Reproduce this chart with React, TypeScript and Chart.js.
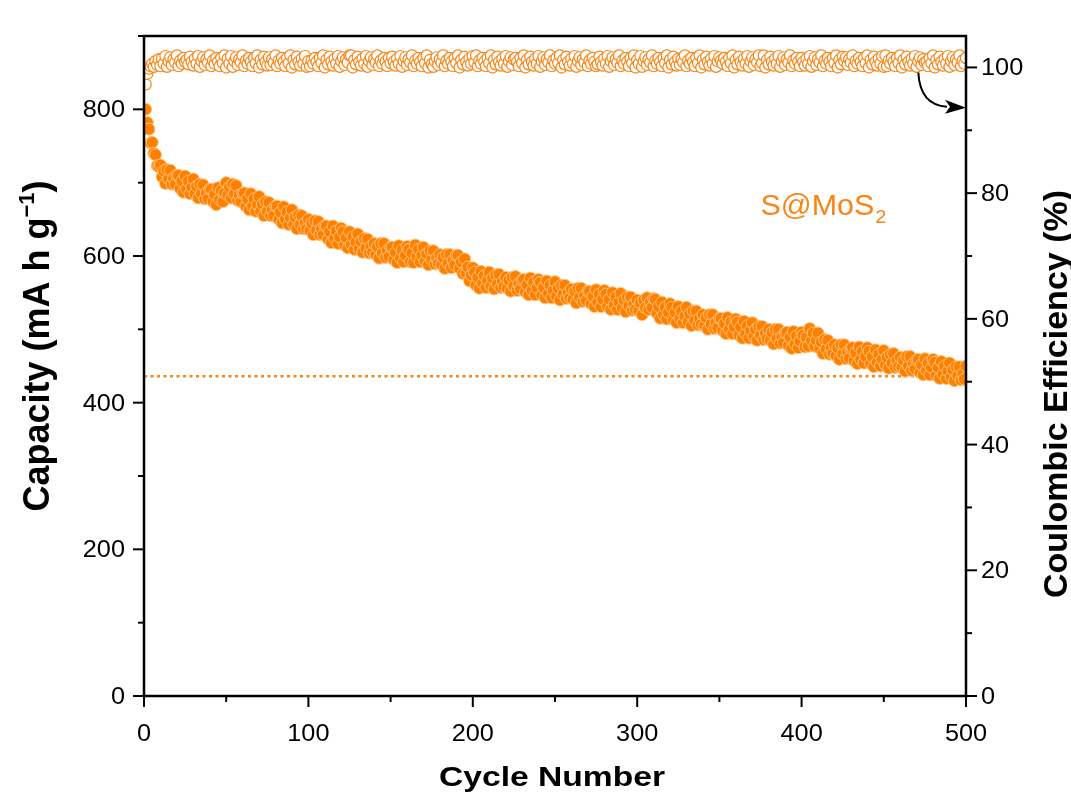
import React, { useEffect, useRef } from "react";
import { Chart, registerables } from "chart.js";

Chart.register(...registerables);

// ---------- data ----------
const CYCLES: number[] = Array.from({ length: 500 }, (_, i) => i + 1);

const CAPACITY: number[] = [
  800, 782, 773, 754, 755, 740, 738, 723, 722, 724, 708, 716, 699, 718, 705, 717, 698, 706, 698, 710,
  710, 692, 702, 687, 709, 692, 702, 685, 694, 705, 685, 695, 679, 698, 685, 697, 678, 686, 678, 691,
  691, 674, 684, 670, 693, 677, 689, 674, 686, 700, 683, 694, 679, 698, 685, 696, 676, 683, 674, 685,
  686, 668, 678, 663, 685, 668, 678, 661, 670, 681, 661, 671, 655, 674, 661, 673, 655, 663, 655, 668,
  668, 650, 660, 645, 667, 650, 660, 643, 652, 663, 643, 653, 637, 656, 643, 655, 637, 645, 637, 650,
  635, 645, 629, 648, 635, 647, 629, 637, 629, 641, 641, 623, 633, 618, 641, 624, 634, 617, 626, 638,
  633, 615, 625, 611, 633, 616, 626, 609, 619, 630, 610, 620, 605, 624, 611, 623, 604, 613, 605, 617,
  602, 613, 597, 617, 604, 617, 598, 607, 599, 612, 612, 595, 605, 591, 614, 597, 608, 592, 601, 613,
  609, 592, 604, 591, 615, 599, 609, 592, 601, 612, 593, 603, 588, 607, 595, 607, 589, 597, 590, 602,
  588, 598, 583, 602, 590, 602, 584, 594, 588, 601, 601, 583, 592, 576, 596, 577, 585, 566, 574, 584,
  578, 560, 571, 556, 579, 563, 573, 557, 567, 578, 559, 570, 555, 574, 562, 575, 557, 565, 558, 571,
  556, 567, 552, 571, 559, 572, 553, 562, 555, 567, 568, 551, 561, 547, 570, 553, 564, 547, 557, 568,
  564, 547, 557, 543, 566, 549, 560, 543, 553, 565, 545, 556, 540, 560, 548, 560, 542, 550, 543, 555,
  541, 552, 536, 556, 544, 556, 538, 546, 539, 552, 552, 535, 545, 531, 554, 537, 548, 531, 541, 553,
  548, 531, 541, 527, 550, 533, 544, 527, 537, 549, 529, 540, 524, 544, 532, 544, 526, 534, 527, 540,
  525, 536, 520, 540, 529, 543, 527, 537, 530, 542, 541, 522, 531, 515, 537, 520, 530, 514, 523, 535,
  530, 513, 523, 509, 531, 515, 525, 509, 518, 530, 510, 521, 505, 525, 512, 525, 506, 515, 507, 520,
  505, 516, 500, 520, 507, 520, 501, 510, 502, 515, 515, 498, 508, 494, 516, 500, 510, 494, 503, 514,
  510, 492, 503, 488, 511, 494, 505, 488, 498, 509, 490, 500, 485, 504, 492, 504, 486, 495, 487, 500,
  485, 496, 480, 500, 487, 500, 481, 490, 482, 495, 496, 478, 489, 474, 497, 480, 491, 475, 484, 496,
  492, 476, 489, 477, 501, 485, 495, 477, 485, 495, 474, 483, 467, 486, 473, 485, 466, 475, 467, 479,
  464, 475, 459, 479, 466, 479, 460, 469, 461, 474, 475, 457, 468, 453, 476, 459, 470, 454, 463, 475,
  470, 453, 463, 449, 472, 455, 466, 450, 459, 471, 451, 462, 447, 466, 454, 467, 448, 457, 449, 462,
  448, 458, 443, 463, 450, 463, 444, 453, 446, 458, 459, 441, 452, 438, 460, 444, 454, 438, 448, 459,
  455, 437, 448, 433, 456, 439, 450, 433, 443, 454, 435, 445, 430, 449, 437, 449, 431, 439, 432, 450,
];

const COULOMBIC_EFFICIENCY: number[] = [
  97.3, 99.0, 99.8, 100.2, 100.6, 100.1, 101.0, 100.4, 101.3, 100.2, 101.4, 100.6, 101.8, 100.1, 101.0, 101.6, 100.4, 101.3, 100.8, 101.9, 100.2, 101.1, 100.6, 101.5, 100.9,
  101.2, 100.5, 101.7, 100.9, 100.3, 101.4, 100.6, 101.8, 100.1, 101.0, 101.6, 100.4, 101.3, 100.8, 101.9, 100.2, 101.1, 100.6, 101.5, 100.9, 100.2, 101.5, 100.7, 101.9, 100.0,
  101.4, 100.6, 101.8, 100.1, 101.0, 101.6, 100.4, 101.3, 100.8, 101.9, 100.2, 101.1, 100.6, 101.5, 100.9, 100.2, 101.5, 100.7, 101.9, 100.0, 101.2, 100.5, 101.7, 100.9, 100.3,
  101.6, 100.4, 101.3, 100.8, 101.9, 100.2, 101.1, 100.6, 101.5, 100.9, 100.2, 101.5, 100.7, 101.9, 100.0, 101.2, 100.5, 101.7, 100.9, 100.3, 101.4, 100.6, 101.8, 100.1, 101.0,
  100.2, 101.1, 100.6, 101.5, 100.9, 100.2, 101.5, 100.7, 101.9, 100.0, 101.2, 100.5, 101.7, 100.9, 100.3, 101.4, 100.6, 101.8, 100.1, 101.0, 101.6, 100.4, 101.3, 100.8, 101.9,
  101.9, 100.0, 101.2, 100.5, 101.7, 100.9, 100.3, 101.4, 100.6, 101.8, 100.1, 101.0, 101.6, 100.4, 101.3, 100.8, 101.9, 100.2, 101.1, 100.6, 101.5, 100.9, 100.2, 101.5, 100.7,
  101.7, 100.9, 100.3, 101.4, 100.6, 101.8, 100.1, 101.0, 101.6, 100.4, 101.3, 100.8, 101.9, 100.2, 101.1, 100.6, 101.5, 100.9, 100.2, 101.5, 100.7, 101.9, 100.0, 101.2, 100.5,
  100.1, 101.0, 101.6, 100.4, 101.3, 100.8, 101.9, 100.2, 101.1, 100.6, 101.5, 100.9, 100.2, 101.5, 100.7, 101.9, 100.0, 101.2, 100.5, 101.7, 100.9, 100.3, 101.4, 100.6, 101.8,
  100.8, 101.9, 100.2, 101.1, 100.6, 101.5, 100.9, 100.2, 101.5, 100.7, 101.9, 100.0, 101.2, 100.5, 101.7, 100.9, 100.3, 101.4, 100.6, 101.8, 100.1, 101.0, 101.6, 100.4, 101.3,
  101.5, 100.9, 100.2, 101.5, 100.7, 101.9, 100.0, 101.2, 100.5, 101.7, 100.9, 100.3, 101.4, 100.6, 101.8, 100.1, 101.0, 101.6, 100.4, 101.3, 100.8, 101.9, 100.2, 101.1, 100.6,
  101.5, 100.7, 101.9, 100.0, 101.2, 100.5, 101.7, 100.9, 100.3, 101.4, 100.6, 101.8, 100.1, 101.0, 101.6, 100.4, 101.3, 100.8, 101.9, 100.2, 101.1, 100.6, 101.5, 100.9, 100.2,
  100.5, 101.7, 100.9, 100.3, 101.4, 100.6, 101.8, 100.1, 101.0, 101.6, 100.4, 101.3, 100.8, 101.9, 100.2, 101.1, 100.6, 101.5, 100.9, 100.2, 101.5, 100.7, 101.9, 100.0, 101.2,
  100.6, 101.8, 100.1, 101.0, 101.6, 100.4, 101.3, 100.8, 101.9, 100.2, 101.1, 100.6, 101.5, 100.9, 100.2, 101.5, 100.7, 101.9, 100.0, 101.2, 100.5, 101.7, 100.9, 100.3, 101.4,
  100.4, 101.3, 100.8, 101.9, 100.2, 101.1, 100.6, 101.5, 100.9, 100.2, 101.5, 100.7, 101.9, 100.0, 101.2, 100.5, 101.7, 100.9, 100.3, 101.4, 100.6, 101.8, 100.1, 101.0, 101.6,
  101.1, 100.6, 101.5, 100.9, 100.2, 101.5, 100.7, 101.9, 100.0, 101.2, 100.5, 101.7, 100.9, 100.3, 101.4, 100.6, 101.8, 100.1, 101.0, 101.6, 100.4, 101.3, 100.8, 101.9, 100.2,
  100.7, 101.9, 100.0, 101.2, 100.5, 101.7, 100.9, 100.3, 101.4, 100.6, 101.8, 100.1, 101.0, 101.6, 100.4, 101.3, 100.8, 101.9, 100.2, 101.1, 100.6, 101.5, 100.9, 100.2, 101.5,
  100.9, 100.3, 101.4, 100.6, 101.8, 100.1, 101.0, 101.6, 100.4, 101.3, 100.8, 101.9, 100.2, 101.1, 100.6, 101.5, 100.9, 100.2, 101.5, 100.7, 101.9, 100.0, 101.2, 100.5, 101.7,
  101.0, 101.6, 100.4, 101.3, 100.8, 101.9, 100.2, 101.1, 100.6, 101.5, 100.9, 100.2, 101.5, 100.7, 101.9, 100.0, 101.2, 100.5, 101.7, 100.9, 100.3, 101.4, 100.6, 101.8, 100.1,
  101.9, 100.2, 101.1, 100.6, 101.5, 100.9, 100.2, 101.5, 100.7, 101.9, 100.0, 101.2, 100.5, 101.7, 100.9, 100.3, 101.4, 100.6, 101.8, 100.1, 101.0, 101.6, 100.4, 101.3, 100.8,
  100.9, 100.2, 101.5, 100.7, 101.9, 100.0, 101.2, 100.5, 101.7, 100.9, 100.3, 101.4, 100.6, 101.8, 100.1, 101.0, 101.6, 100.4, 101.3, 100.8, 101.9, 100.2, 101.1, 100.6, 101.5,
];

const REFERENCE_CAPACITY = 436;

const X_MAJOR_TICKS = [0, 100, 200, 300, 400, 500];
const X_MINOR_TICKS = [50, 150, 250, 350, 450];
const Y_LEFT_MAJOR_TICKS = [0, 200, 400, 600, 800];
const Y_LEFT_MINOR_TICKS = [100, 300, 500, 700, 900];
const Y_RIGHT_MAJOR_TICKS = [0, 20, 40, 60, 80, 100];
const Y_RIGHT_MINOR_TICKS = [10, 30, 50, 70, 90];

const X_TITLE = "Cycle Number";
const Y_LEFT_TITLE = ["Capacity (mA h g", "\u22121", ")"];
const Y_RIGHT_TITLE = "Coulombic Efficiency (%)";
const SERIES_LABEL = ["S@MoS", "2"];

// annotation anchors in data units (cycle, capacity) / (cycle, CE)
const LABEL_ANCHOR = { x: 375, y: 656 };
const ARROW_START = { x: 471, y: 99.2 };
const ARROW_CONTROL = { x: 472, y: 94.0 };
const ARROW_TIP = { x: 500, y: 93.6 };

// ---------- styles ----------
const ORANGE = "#FA8414";
const FONT = "'Liberation Sans', Arial, Helvetica, sans-serif";

function drawText(
  ctx: CanvasRenderingContext2D,
  s: string,
  x: number,
  y: number,
  font: string,
  align: CanvasTextAlign,
  baseline: CanvasTextBaseline,
  sx = 1,
  color = "#000"
) {
  ctx.save();
  ctx.translate(x, y);
  ctx.scale(sx, 1);
  ctx.font = font;
  ctx.fillStyle = color;
  ctx.textAlign = align;
  ctx.textBaseline = baseline;
  ctx.fillText(s, 0, 0);
  ctx.restore();
}

const originPlugin = {
  id: "originFrame",
  afterDatasetsDraw(chart: any) {
    const { ctx, chartArea: a, scales } = chart;
    const xs = scales.x;
    const yl = scales.y;
    const yr = scales.y1;
    ctx.save();
    ctx.strokeStyle = "#000";
    ctx.lineWidth = 2.5;
    ctx.strokeRect(a.left, a.top, a.right - a.left, a.bottom - a.top);

    ctx.lineWidth = 2;
    const seg = (x1: number, y1: number, x2: number, y2: number) => {
      ctx.beginPath();
      ctx.moveTo(x1, y1);
      ctx.lineTo(x2, y2);
      ctx.stroke();
    };
    X_MAJOR_TICKS.forEach((v) => {
      const p = xs.getPixelForValue(v);
      seg(p, a.bottom, p, a.bottom + 11);
    });
    X_MINOR_TICKS.forEach((v) => {
      const p = xs.getPixelForValue(v);
      seg(p, a.bottom, p, a.bottom + 6);
    });
    Y_LEFT_MAJOR_TICKS.forEach((v) => {
      const p = yl.getPixelForValue(v);
      seg(a.left, p, a.left - 11, p);
    });
    Y_LEFT_MINOR_TICKS.forEach((v) => {
      const p = yl.getPixelForValue(v);
      seg(a.left, p, a.left - 6, p);
    });
    Y_RIGHT_MAJOR_TICKS.forEach((v) => {
      const p = yr.getPixelForValue(v);
      seg(a.right, p, a.right + 11, p);
    });
    Y_RIGHT_MINOR_TICKS.forEach((v) => {
      const p = yr.getPixelForValue(v);
      seg(a.right, p, a.right + 6, p);
    });

    const tickFont = `23px ${FONT}`;
    const sx = 1.1;
    X_MAJOR_TICKS.forEach((v) => {
      drawText(ctx, String(v), xs.getPixelForValue(v), a.bottom + 45, tickFont, "center", "alphabetic", sx);
    });
    Y_LEFT_MAJOR_TICKS.forEach((v) => {
      drawText(ctx, String(v), a.left - 19, yl.getPixelForValue(v) + 8, tickFont, "right", "alphabetic", sx);
    });
    Y_RIGHT_MAJOR_TICKS.forEach((v) => {
      drawText(ctx, String(v), a.right + 15, yr.getPixelForValue(v) + 8, tickFont, "left", "alphabetic", sx);
    });

    // x title
    drawText(ctx, X_TITLE, (a.left + a.right) / 2 - 3, a.bottom + 90, `bold 28px ${FONT}`, "center", "alphabetic", 1.2);

    // left title (rotated)
    {
      const F = 36;
      const main = `bold ${F}px ${FONT}`;
      const sup = `bold ${Math.round(F * 0.6)}px ${FONT}`;
      ctx.save();
      ctx.font = main;
      const w1 = ctx.measureText(Y_LEFT_TITLE[0]).width;
      const w3 = ctx.measureText(Y_LEFT_TITLE[2]).width;
      ctx.font = sup;
      const w2 = ctx.measureText(Y_LEFT_TITLE[1]).width;
      const total = w1 + w2 + w3;
      ctx.translate(49, 346);
      ctx.rotate(-Math.PI / 2);
      ctx.fillStyle = "#000";
      ctx.textAlign = "left";
      ctx.textBaseline = "alphabetic";
      let cx = -total / 2;
      ctx.font = main;
      ctx.fillText(Y_LEFT_TITLE[0], cx, 0);
      cx += w1;
      ctx.font = sup;
      ctx.fillText(Y_LEFT_TITLE[1], cx, -F * 0.42);
      cx += w2;
      ctx.font = main;
      ctx.fillText(Y_LEFT_TITLE[2], cx, 0);
      ctx.restore();
    }

    // right title (rotated, reading bottom to top)
    {
      ctx.save();
      ctx.translate(1067, 394);
      ctx.rotate(-Math.PI / 2);
      ctx.font = `bold 34px ${FONT}`;
      ctx.fillStyle = "#000";
      ctx.textAlign = "center";
      ctx.textBaseline = "alphabetic";
      ctx.fillText(Y_RIGHT_TITLE, 0, 0);
      ctx.restore();
    }

    // series label
    {
      const lx = xs.getPixelForValue(LABEL_ANCHOR.x);
      const ly = yl.getPixelForValue(LABEL_ANCHOR.y);
      ctx.save();
      ctx.font = `29px ${FONT}`;
      const w = ctx.measureText(SERIES_LABEL[0]).width * 1.05;
      ctx.restore();
      drawText(ctx, SERIES_LABEL[0], lx, ly, `29px ${FONT}`, "left", "alphabetic", 1.05, ORANGE);
      drawText(ctx, SERIES_LABEL[1], lx + w + 1, ly + 8, `19px ${FONT}`, "left", "alphabetic", 1.05, ORANGE);
    }

    // arrow
    {
      const sxp = xs.getPixelForValue(ARROW_START.x);
      const syp = yr.getPixelForValue(ARROW_START.y);
      const cxp = xs.getPixelForValue(ARROW_CONTROL.x);
      const cyp = yr.getPixelForValue(ARROW_CONTROL.y);
      const txp = xs.getPixelForValue(ARROW_TIP.x);
      const typ = yr.getPixelForValue(ARROW_TIP.y);
      const bx = txp - 21;
      const by = typ - 1;
      ctx.strokeStyle = "#000";
      ctx.lineWidth = 2;
      ctx.beginPath();
      ctx.moveTo(sxp, syp);
      ctx.quadraticCurveTo(cxp, cyp, bx + 2, by);
      ctx.stroke();
      ctx.fillStyle = "#000";
      ctx.beginPath();
      ctx.moveTo(txp, typ);
      ctx.lineTo(bx, by - 7);
      ctx.lineTo(bx + 5, by);
      ctx.lineTo(bx, by + 7);
      ctx.closePath();
      ctx.fill();
    }
    ctx.restore();
  },
};

export default function App() {
  const canvasRef = useRef<HTMLCanvasElement | null>(null);

  useEffect(() => {
    document.body.style.margin = "0";
    document.body.style.background = "#fff";
    const canvas = canvasRef.current;
    if (!canvas) return;

    const capacityPoints = CYCLES.map((c, i) => ({ x: c, y: CAPACITY[i] }));
    const cePoints = CYCLES.map((c, i) => ({ x: c, y: COULOMBIC_EFFICIENCY[i] }));
    const refLine = [
      { x: 0, y: REFERENCE_CAPACITY },
      { x: 500, y: REFERENCE_CAPACITY },
    ];

    const chart = new Chart(canvas, {
      type: "scatter",
      data: {
        datasets: [
          {
            label: "reference",
            data: refLine,
            showLine: true,
            borderColor: ORANGE,
            borderWidth: 2.5,
            borderDash: [3, 3.5],
            pointRadius: 0,
            yAxisID: "y",
            order: 3,
            clip: 0,
          },
          {
            label: "Capacity",
            data: capacityPoints,
            showLine: false,
            pointRadius: 6,
            pointBackgroundColor: "#FF8000",
            pointBorderColor: "rgba(255,196,130,0.95)",
            pointBorderWidth: 1,
            yAxisID: "y",
            order: 2,
            clip: 0,
          },
          {
            label: "Coulombic Efficiency",
            data: cePoints,
            showLine: false,
            pointRadius: 5.6,
            pointBackgroundColor: "#ffffff",
            pointBorderColor: ORANGE,
            pointBorderWidth: 1.2,
            yAxisID: "y1",
            order: 1,
            clip: 0,
          },
        ],
      } as any,
      options: {
        animation: false,
        responsive: false,
        maintainAspectRatio: false,
        layout: { padding: { top: 36, left: 0, right: 0, bottom: 0 } },
        plugins: { legend: { display: false }, tooltip: { enabled: false } },
        scales: {
          x: {
            type: "linear",
            min: 0,
            max: 500,
            ticks: { display: false },
            grid: { display: false, drawTicks: false },
            border: { display: false },
            afterFit: (s: any) => {
              s.height = 106;
            },
          },
          y: {
            type: "linear",
            position: "left",
            min: 0,
            max: 900,
            ticks: { display: false },
            grid: { display: false, drawTicks: false },
            border: { display: false },
            afterFit: (s: any) => {
              s.width = 144;
            },
          },
          y1: {
            type: "linear",
            position: "right",
            min: 0,
            max: 105,
            ticks: { display: false },
            grid: { display: false, drawTicks: false },
            border: { display: false },
            afterFit: (s: any) => {
              s.width = 105;
            },
          },
        },
      } as any,
      plugins: [originPlugin],
    });

    return () => chart.destroy();
  }, []);

  return (
    <div style={{ width: 1071, height: 802, background: "#fff" }}>
      <canvas ref={canvasRef} width={1071} height={802} style={{ display: "block" }} />
    </div>
  );
}
